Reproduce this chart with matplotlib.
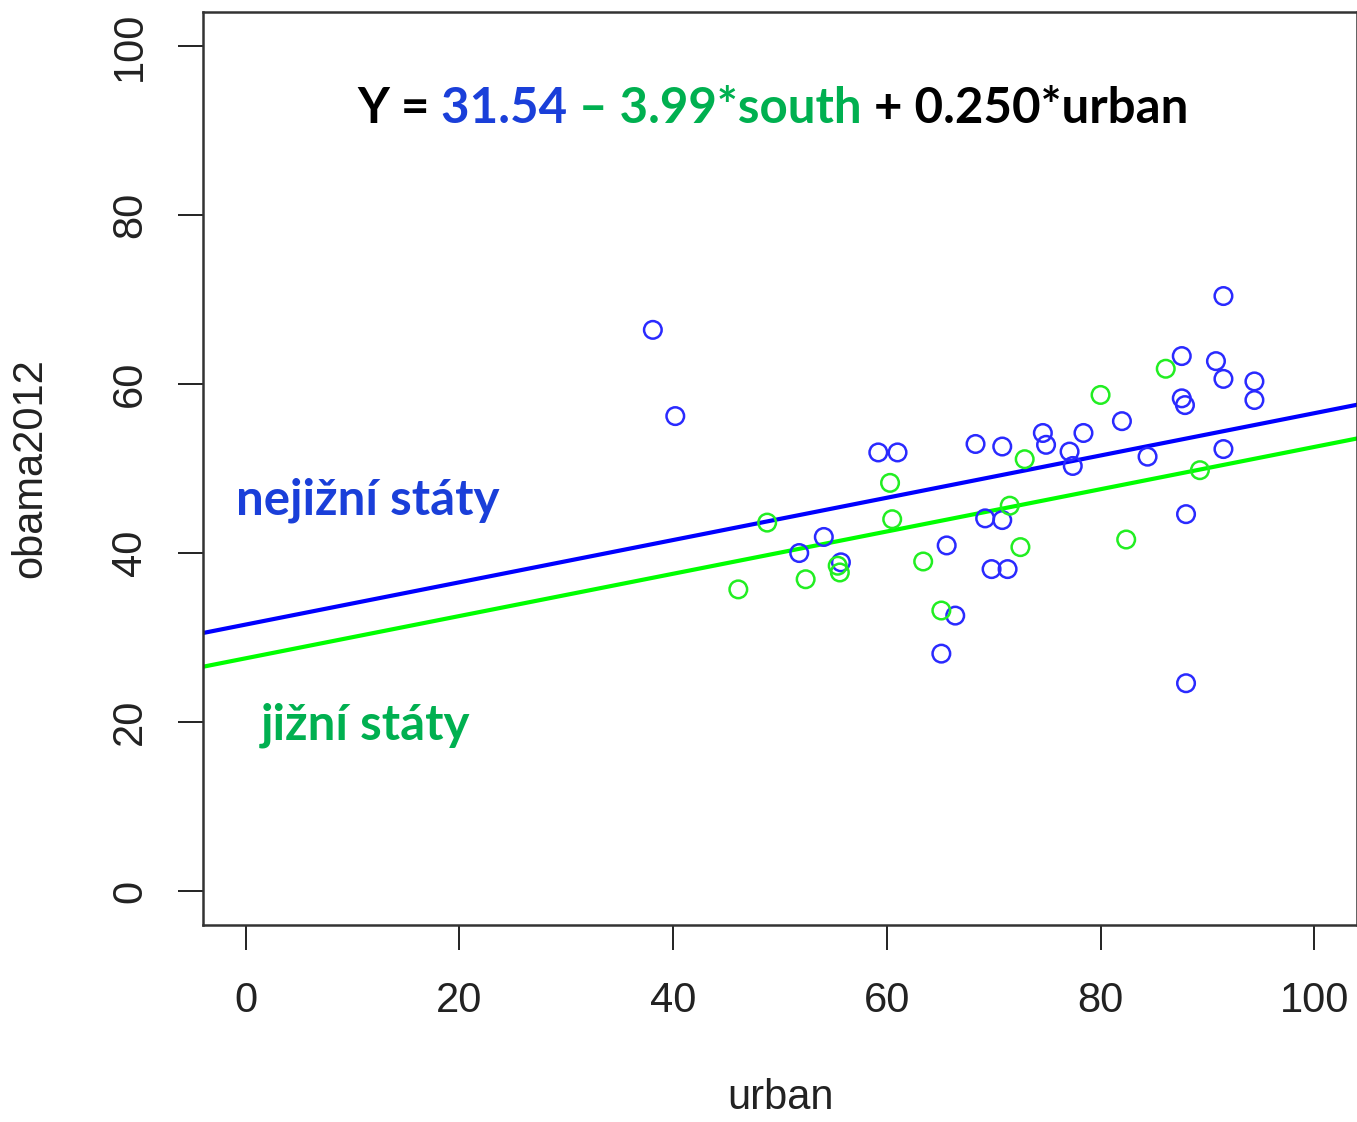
import matplotlib
matplotlib.use("Agg")
import matplotlib.pyplot as plt

# non-southern states (urban %, obama2012 %)
north_urban = [38.1, 40.2, 59.2, 61.0, 68.3, 70.8, 69.2, 70.8, 54.1, 51.8,
               65.6, 69.8, 71.3, 55.7, 66.4, 65.1, 74.6, 74.9, 78.4, 77.1,
               77.4, 82.0, 84.4, 87.6, 87.6, 87.9, 88.0, 88.0, 90.8, 91.5,
               91.5, 91.5, 94.4, 94.4]
north_obama = [66.4, 56.2, 51.9, 51.9, 52.9, 52.6, 44.1, 43.9, 41.9, 40.0,
               40.9, 38.1, 38.1, 38.9, 32.6, 28.1, 54.2, 52.8, 54.2, 52.0,
               50.3, 55.6, 51.4, 63.3, 58.3, 57.5, 44.6, 24.6, 62.7, 70.4,
               60.6, 52.3, 60.3, 58.1]

# southern states
south_urban = [46.1, 48.8, 52.4, 55.4, 55.6, 60.3, 60.5, 63.4, 65.1, 71.5,
               72.5, 72.9, 80.0, 82.4, 86.1, 89.3]
south_obama = [35.7, 43.6, 36.9, 38.5, 37.7, 48.3, 44.0, 39.0, 33.2, 45.6,
               40.7, 51.1, 58.7, 41.6, 61.8, 49.8]

# fitted model: Y = 31.54 - 3.99*south + 0.250*urban
intercept = 31.54
south_coef = -3.99
slope = 0.250

xticks = [0, 20, 40, 60, 80, 100]
yticks = [0, 20, 40, 60, 80, 100]

plt.rcParams["font.family"] = ["Liberation Sans", "DejaVu Sans"]

fig = plt.figure(figsize=(13.57, 11.22), dpi=100)
ax = fig.add_axes([203 / 1357, 1 - 925 / 1122, 1154 / 1357, 913 / 1122])

ax.scatter(north_urban, north_obama, s=160, facecolors="none",
           edgecolors="#2a2aff", linewidths=1.8, zorder=3)
ax.scatter(south_urban, south_obama, s=160, facecolors="none",
           edgecolors="#22ee22", linewidths=1.8, zorder=3)

ax.axline((0, intercept), slope=slope, color="#0000ff", lw=3.0, zorder=2)
ax.axline((0, intercept + south_coef), slope=slope, color="#00ff00", lw=3.0, zorder=2)

ax.set_xlim(-4, 104)
ax.set_ylim(-4, 104)
ax.set_xticks(xticks)
ax.set_yticks(yticks)
ax.tick_params(length=18, width=1.4, labelsize=30, colors="#222222")
ax.tick_params(axis="x", pad=22)
ax.tick_params(axis="y", pad=20)
for lab in ax.get_yticklabels():
    lab.set_rotation(90)
    lab.set_va("center")
for sp in ax.spines.values():
    sp.set_linewidth(1.8)
    sp.set_color("#333333")

ax.set_xlabel("urban", fontsize=30, color="#222222", va="center")
ax.set_ylabel("obama2012", fontsize=30, color="#222222", va="center")
ax.xaxis.set_label_coords(0.5, -0.19)
ax.yaxis.set_label_coords(-0.150, 0.5)

# equation in several colours
fkw = dict(fontfamily=["Lato", "DejaVu Sans"], fontweight="bold", fontsize=35.5)
pieces = [("Y =", "black"), (" 31.54", "#1a3fd9"),
          (" \u2013 3.99*south", "#00b050"), (" + 0.250*urban", "black")]
prev = ax.text(10.4, 90.9, pieces[0][0], color=pieces[0][1], va="baseline", **fkw)
for txt, col in pieces[1:]:
    prev = ax.annotate(txt, xy=(1, 0), xycoords=prev, va="bottom", ha="left",
                       color=col, **fkw)

ax.text(-0.9, 44.5, "nejižní státy", color="#1a3fd9", va="baseline", **fkw)
ax.text(1.4, 17.9, "jižní státy", color="#00b050", va="baseline", **fkw)

fig.savefig("out.png", dpi=100)
